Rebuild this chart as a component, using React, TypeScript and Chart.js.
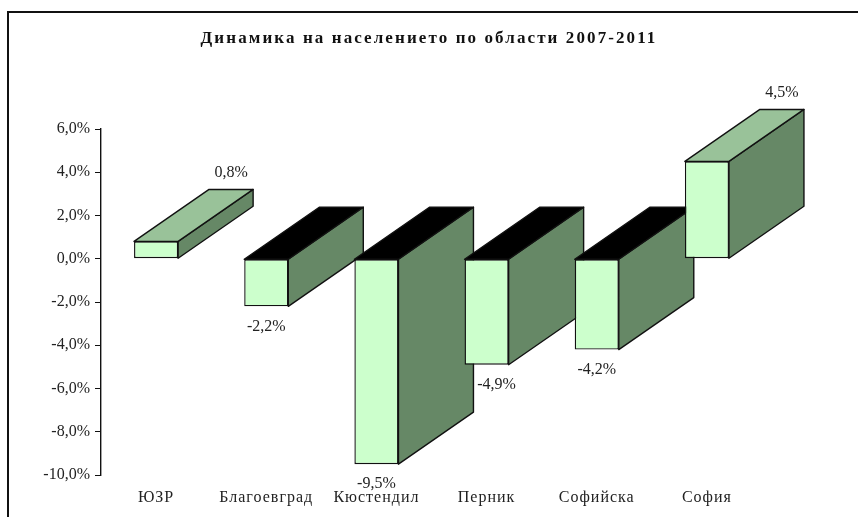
import React, { useEffect, useRef } from "react";
import { Chart, registerables } from "chart.js";

Chart.register(...registerables);

const categories = ["ЮЗР", "Благоевград", "Кюстендил", "Перник", "Софийска", "София"];
const values = [0.8, -2.2, -9.5, -4.9, -4.2, 4.5];
const titleText = "Динамика на населението по области 2007-2011";

const FRONT = "#CCFFCC";
const SIDE = "#668866";
const TOP_POS = "#99C299";
const TOP_NEG = "#000000";
const LINE = "#111111";
const TEXT = "#222222";
const FONT = "'Liberation Serif', serif";
const DEPTH_X = 75;
const DEPTH_Y = 52;

const fmt = (v: number) => v.toFixed(1).replace(".", ",") + "%";

function poly(ctx: CanvasRenderingContext2D, pts: number[][], fill: string) {
  ctx.beginPath();
  pts.forEach((p, i) => (i ? ctx.lineTo(p[0], p[1]) : ctx.moveTo(p[0], p[1])));
  ctx.closePath();
  ctx.fillStyle = fill;
  ctx.fill();
  ctx.strokeStyle = LINE;
  ctx.lineWidth = 1.4;
  ctx.lineJoin = "round";
  ctx.stroke();
}

function spaced(chart: any, obj: any, method: string, spacing: string) {
  if (!obj || obj["__sp_" + method]) return;
  const original = obj[method];
  obj[method] = function (...args: any[]) {
    const c = chart.ctx;
    c.save();
    c.letterSpacing = spacing;
    original.apply(obj, args);
    c.restore();
  };
  obj["__sp_" + method] = true;
}

const framePlugin = {
  id: "frame",
  afterLayout(chart: any) {
    spaced(chart, chart.titleBlock, "draw", "2.1px");
    spaced(chart, chart.scales.x, "drawLabels", "1px");
  },
  beforeDraw(chart: any) {
    const { ctx } = chart;
    ctx.save();
    ctx.strokeStyle = "#111111";
    ctx.lineWidth = 2;
    ctx.beginPath();
    ctx.moveTo(8, 517);
    ctx.lineTo(8, 12);
    ctx.lineTo(858, 12);
    ctx.stroke();
    ctx.restore();
  },
};

const depthPlugin = {
  id: "depth",
  beforeDatasetsDraw(chart: any) {
    const { ctx } = chart;
    const bars = chart.getDatasetMeta(0).data;
    ctx.save();
    bars.forEach((b: any, i: number) => {
      const hw = b.width / 2;
      const l = b.x - hw;
      const r = b.x + hw;
      const top = Math.min(b.y, b.base);
      const bot = Math.max(b.y, b.base);
      poly(ctx, [[r, top], [r + DEPTH_X, top - DEPTH_Y], [r + DEPTH_X, bot - DEPTH_Y], [r, bot]], SIDE);
      poly(ctx, [[l, top], [l + DEPTH_X, top - DEPTH_Y], [r + DEPTH_X, top - DEPTH_Y], [r, top]], values[i] >= 0 ? TOP_POS : TOP_NEG);
    });
    ctx.restore();
  },
  afterDatasetsDraw(chart: any) {
    const { ctx } = chart;
    const bars = chart.getDatasetMeta(0).data;
    ctx.save();
    ctx.font = `16px ${FONT}`;
    ctx.fillStyle = TEXT;
    ctx.textAlign = "center";
    ctx.textBaseline = "middle";
    bars.forEach((b: any, i: number) => {
      if (values[i] >= 0) {
        ctx.fillText(fmt(values[i]), b.x + DEPTH_X, b.y - DEPTH_Y - 17);
      } else {
        ctx.fillText(fmt(values[i]), b.x + (values[i] === -4.9 ? 10 : 0), b.y + 20);
      }
    });
    ctx.restore();
  },
};

export default function App() {
  const ref = useRef<HTMLCanvasElement>(null);
  useEffect(() => {
    const chart = new Chart(ref.current!, {
      type: "bar",
      data: {
        labels: categories,
        datasets: [
          {
            data: values,
            backgroundColor: FRONT,
            borderColor: LINE,
            borderWidth: 1.4,
            borderSkipped: false,
            categoryPercentage: 0.4,
            barPercentage: 1,
          },
        ],
      },
      options: {
        responsive: false,
        animation: false,
        layout: { padding: { left: 0, top: 0, right: 0, bottom: 0 } },
        plugins: {
          legend: { display: false },
          tooltip: { enabled: false },
          title: {
            display: true,
            text: titleText,
            color: "#111111",
            font: { family: FONT, size: 17, weight: "bold" },
            padding: { top: 28, bottom: 80.6 },
          },
        },
        scales: {
          x: {
            grid: { display: false },
            border: { display: false },
            ticks: { color: TEXT, font: { family: FONT, size: 16 }, padding: 5 },
            afterFit(s: any) {
              s.height = 42;
            },
          },
          y: {
            min: -10,
            max: 6,
            ticks: {
              stepSize: 2,
              color: TEXT,
              font: { family: FONT, size: 16 },
              padding: 5,
              callback: (v: any) => fmt(Number(v)),
            },
            grid: { drawOnChartArea: false, tickLength: 6, color: LINE },
            border: { color: LINE, width: 1.4 },
            afterFit(s: any) {
              s.width = 101;
            },
          },
          r: {
            position: "right",
            min: -10,
            max: 6,
            ticks: { display: false },
            grid: { display: false },
            border: { display: false },
            afterFit(s: any) {
              s.width = 96;
            },
          },
        },
      },
      plugins: [framePlugin, depthPlugin],
    } as any);
    return () => chart.destroy();
  }, []);
  return (
    <div style={{ position: "absolute", left: 0, top: 0, width: 858, height: 517, background: "#fff" }}>
      <canvas ref={ref} width={858} height={517} style={{ display: "block" }} />
    </div>
  );
}
